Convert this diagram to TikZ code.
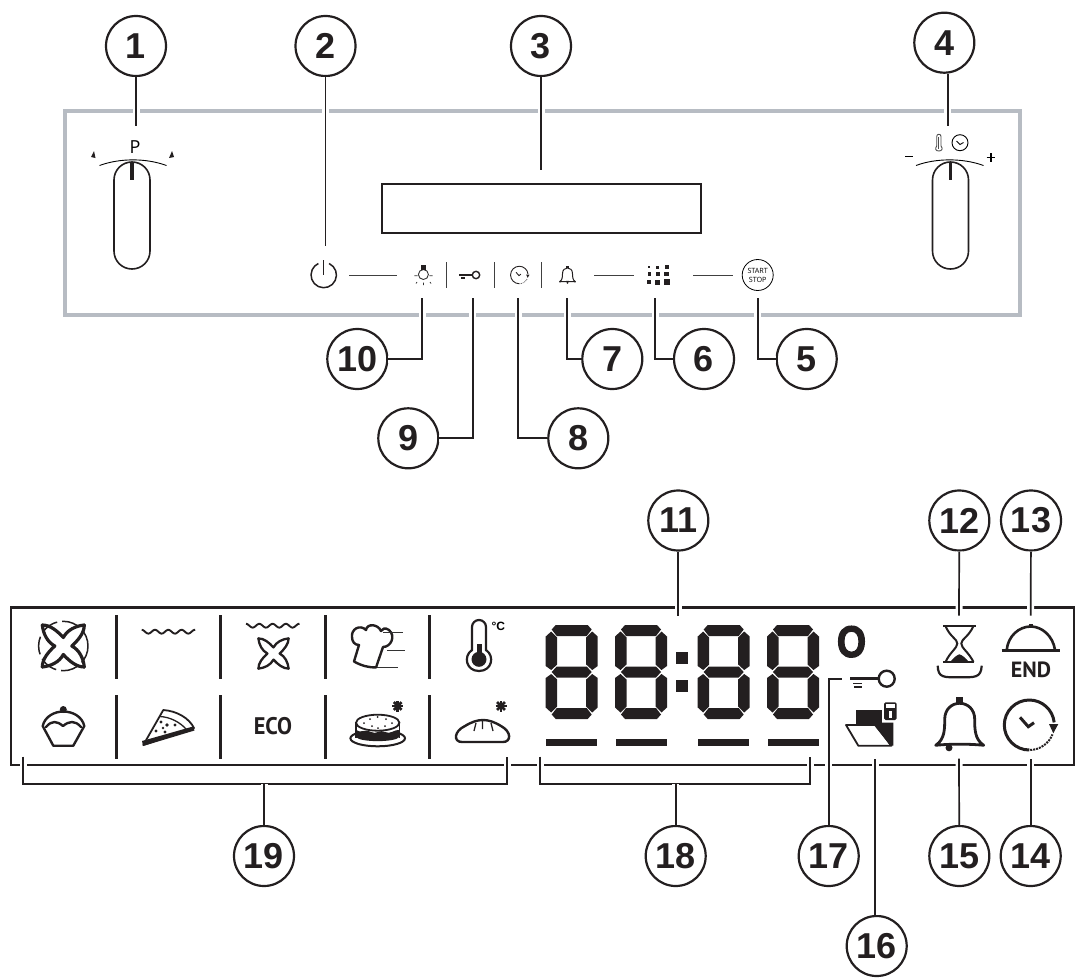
\documentclass[tikz,border=0pt]{standalone}
\usepackage{fontspec}
\setmainfont{Liberation Sans}
\newfontfamily\thinfont{Open Sans}
\newfontfamily\narrowfont{PT Sans}
\newfontfamily\heavyfont[BoldFeatures={FakeBold=3}]{Liberation Sans}
\usetikzlibrary{calc}

\definecolor{panelgrey}{HTML}{B7BCC3}
\definecolor{inkblack}{HTML}{231F20}
\tikzset{
	callout/.style={circle,draw=inkblack,fill=white,line width=2.2pt,minimum size=60pt,inner sep=0pt,text=inkblack,font=\fontsize{36}{36}\selectfont\bfseries},
	lead/.style={inkblack,line width=1.7pt,preaction={draw=white,line width=7pt}},
	panel/.style={draw=panelgrey,line width=4pt},
	ctrl/.style={black!75,line width=.9pt},
	icon/.style={inkblack,line width=2.4pt,line join=round,line cap=round},
}

%seven segment digit, top left corner at #1,#2
\newcommand{\segdigit}[2]{
	\begin{scope}[shift={(#1,#2)}]
		\fill[inkblack] (10,0) -- (42,0) -- (46,4.5) -- (41,11) -- (11,11) -- (6,4.5) -- cycle;
		\fill[inkblack] (11,41.5) -- (41,41.5) -- (46,47) -- (41,52.5) -- (11,52.5) -- (6,47) -- cycle;
		\fill[inkblack] (10,94) -- (42,94) -- (46,89.5) -- (41,83) -- (11,83) -- (6,89.5) -- cycle;
		\fill[inkblack] (0,11.5) -- (5.5,6.5) -- (11.5,12.5) -- (11.5,39.5) -- (5.5,45) -- (0,41) -- cycle;
		\fill[inkblack] (52,11.5) -- (46.5,6.5) -- (40.5,12.5) -- (40.5,39.5) -- (46.5,45) -- (52,41) -- cycle;
		\fill[inkblack] (0,82.5) -- (5.5,87.5) -- (11.5,81.5) -- (11.5,54.5) -- (5.5,49) -- (0,53) -- cycle;
		\fill[inkblack] (52,82.5) -- (46.5,87.5) -- (40.5,81.5) -- (40.5,54.5) -- (46.5,49) -- (52,53) -- cycle;
	\end{scope}
}
%pinwheel fan
\newcommand{\fanblades}[3]{
	\begin{scope}[shift={(#1,#2)},scale=#3]
		\foreach \ang in {0,90,180,270}{
			\draw[icon,rotate=\ang,line width=#3*3.2pt] (-21,-21) .. controls (-13,-21) and (-6,-15) .. (0,-8.5) .. controls (4,-16) and (12,-20) .. (21,-21);
		}
	\end{scope}
}
%wavy heater line
\newcommand{\heatwave}[2]{
	\draw[inkblack,line width=1.9pt,shift={(#1,#2)}] plot[domain=0:53.5,samples=55,smooth] (\x,{-1.9*cos(\x/13.3*360)});
}
%bell, top of the knob at #1,#2
\newcommand{\bellicon}[5]{
	\begin{scope}[shift={(#1,#2)},scale=#3]
		\draw[inkblack,line width=#4,line join=round] (-24,48) .. controls (-15,42) and (-15,32) .. (-15,22) .. controls (-15,12) and (-8,6) .. (0,6) .. controls (8,6) and (15,12) .. (15,22) .. controls (15,32) and (15,42) .. (24,48) .. controls (10,46.5) and (-10,46.5) .. (-24,48) -- cycle;
		\fill[inkblack] (-3.3,0) rectangle (3.3,7);
		\fill[inkblack] (#5,50.5) circle (3.5);
	\end{scope}
}
%clock with running arrow
\newcommand{\clockicon}[4]{
	\begin{scope}[shift={(#1,#2)},scale=#3]
		\draw[inkblack,line width=#4] (0,25) arc (90:354:25);
		\draw[inkblack,line width=#3*2pt,densely dotted] (.9,25) arc (88:22:25);
		\fill[inkblack] (19.7,-1) -- (29,-1) -- (24,8.3) -- cycle;
		\draw[inkblack,line width=#4] (-9.3,-7.7) -- (-1,1.7) -- (4.7,-2.3);
	\end{scope}
}
%asterisk mark
\newcommand{\starmark}[2]{
	\foreach \ang in {0,45,90,135}{
		\draw[inkblack,line width=2.6pt,shift={(#1,#2)},rotate=\ang] (-5.5,0) -- (5.5,0);
	}
}

\begin{document}
\begin{tikzpicture}[x=1pt,y=-1pt]
	\useasboundingbox (0,0) rectangle (1078,979);
	\pgfmathsetmacro{\knobw}{36}		%width of knob
	\pgfmathsetmacro{\knobtop}{162}
	\pgfmathsetmacro{\knobbot}{269}
	\pgfmathsetmacro{\rowa}{275}		%row of touch controls

	%control panel
	\draw[panel] (65,111) rectangle (1020,315);
	\draw[inkblack,line width=1.4pt] (382,184) rectangle (701,233);

	%display
	\draw[inkblack,line width=2.8pt] (11,607.5) rectangle (1074,765);

	%callouts
	\node[callout] (n1) at (136,46) {1};
	\node[callout] (n2) at (325.5,46) {2};
	\node[callout] (n3) at (541,46) {3};
	\node[callout] (n4) at (944.3,42.7) {4};
	\node[callout] (n5) at (806.7,359) {5};
	\node[callout] (n6) at (704,359) {6};
	\node[callout] (n7) at (612.3,359) {7};
	\node[callout] (n8) at (578.3,438.3) {8};
	\node[callout] (n9) at (408.3,438.3) {9};
	\node[callout] (n10) at (357.3,359) {10};
	\node[callout] (n11) at (678.3,520.5) {11};
	\node[callout] (n12) at (959.3,520.5) {12};
	\node[callout] (n13) at (1031,520.5) {13};
	\node[callout] (n14) at (1030.7,856) {14};
	\node[callout] (n15) at (959.3,856) {15};
	\node[callout] (n16) at (876.7,946) {16};
	\node[callout] (n17) at (828.7,856) {17};
	\node[callout] (n18) at (675.7,856) {18};
	\node[callout] (n19) at (264,856) {19};

	%free ends of the leaders
	\coordinate (c1) at (136,126);
	\coordinate (c2) at (325.5,246);
	\coordinate (c3) at (541,170);
	\coordinate (c4) at (947.7,126);
	\coordinate (c5) at (757.7,298);
	\coordinate (c6) at (655,298);
	\coordinate (c7) at (567.3,298);
	\coordinate (c8) at (518.3,298);
	\coordinate (c9) at (472.7,298);
	\coordinate (c10) at (422.3,298);
	\coordinate (c11) at (678.3,615.7);
	\coordinate (c12) at (959,615.7);
	\coordinate (c13) at (1030.7,615.7);
	\coordinate (c14) at (1030.7,758.7);
	\coordinate (c15) at (959,758.7);
	\coordinate (c16) at (875.3,758.7);
	\coordinate (c17) at (842.3,678.7);
	\coordinate (a18) at (540.3,756.7);
	\coordinate (b18) at (540.3,784);
	\coordinate (d18) at (810,784);
	\coordinate (e18) at (810,756.7);
	\coordinate (m18) at (675.7,784);
	\coordinate (a19) at (23.3,756.7);
	\coordinate (b19) at (23.3,784);
	\coordinate (d19) at (507.3,784);
	\coordinate (e19) at (507.3,756.7);
	\coordinate (m19) at (264,784);

	%leaders
	\draw[lead] (n1) -- (c1);
	\draw[lead] (n2) -- (c2);
	\draw[lead] (n3) -- (c3);
	\draw[lead] (c4 |- n4.south) -- (c4);
	\draw[lead] (n5) -| (c5);
	\draw[lead] (n6) -| (c6);
	\draw[lead] (n7) -| (c7);
	\draw[lead] (n8) -| (c8);
	\draw[lead] (n9) -| (c9);
	\draw[lead] (n10) -| (c10);
	\draw[lead] (n11) -- (c11);
	\draw[lead] (n12) -- (c12);
	\draw[lead] (n13) -- (c13);
	\draw[lead] (n14) -- (c14);
	\draw[lead] (n15) -- (c15);
	\draw[lead] (c16 |- n16.north) -- (c16);
	\draw[lead] (n17) |- (c17);
	\draw[lead] (a18) -- (b18) -- (d18) -- (e18);
	\draw[lead] (m18) -- (n18);
	\draw[lead] (a19) -- (b19) -- (d19) -- (e19);
	\draw[lead] (m19) -- (n19);

	%left knob
	\draw[inkblack,line width=1.6pt,rounded corners=17.9pt] (114,\knobtop) rectangle (114+\knobw,\knobbot);
	\draw[inkblack,line width=3.5pt] (132,\knobtop) -- (132,180);
	\draw[ctrl,black] (99.5,165.5) .. controls (120,158) and (146,158) .. (166.5,165.5);
	\fill[inkblack] (91,157) -- (94,151) -- (95.5,158) -- cycle;
	\fill[inkblack] (174,157) -- (172,151) -- (169,158) -- cycle;
	\node[font=\fontsize{18}{18}\selectfont\thinfont] (plabel) at (135,147) {P};

	%right knob
	\draw[inkblack,line width=1.6pt,rounded corners=17.9pt] (932.5,\knobtop) rectangle (932.5+\knobw,\knobbot);
	\draw[inkblack,line width=3.5pt] (950.5,\knobtop) -- (950.5,180);
	\draw[ctrl,black] (916,165.5) .. controls (936,158) and (963,158) .. (983.5,165.5);
	\draw[black,line width=1.1pt] (905,156.7) -- (913.3,156.7);
	\draw[black,line width=1.1pt] (986.7,157.3) -- (995.3,157.3) (991,153) -- (991,161.6);
	\draw[black!70,line width=.9pt] (936.7,146) -- (936.7,136.5) .. controls (936.7,133.5) and (941,133.5) .. (941,136.5) -- (941,146) .. controls (943.5,149) and (941.5,151) .. (938.8,151) .. controls (936,151) and (934.5,149) .. (936.7,146);
	\draw[black!70,line width=1.2pt] (938.8,137) -- (938.8,149);
	\draw[black,line width=.9pt] (960,142.7) circle (8);
	\draw[black,line width=.9pt] (956.5,141) -- (960,144.5) -- (963.5,142.5);

	%touch controls
	\draw[inkblack,line width=1.5pt] (329.1,263.5) arc (295:605:12.7);
	\draw[inkblack,line width=1.5pt] (323.7,260) -- (323.7,275);
	\draw[ctrl] (349,\rowa) -- (397,\rowa);
	\draw[ctrl] (594,\rowa) -- (634,\rowa);
	\draw[ctrl] (693,\rowa) -- (733,\rowa);
	\draw[ctrl] (446,262) -- (446,288);
	\draw[ctrl] (494,262) -- (494,288);
	\draw[ctrl] (541.5,262) -- (541.5,288);
	%bulb
	\draw[black!80,line width=.9pt] (423.4,274.5) circle (5);
	\fill[inkblack] (421,265) rectangle (426,270);
	\draw[black!80,line width=.8pt] (414.3,275.7) -- (417.7,275.7) (429.3,275.7) -- (432.5,275.7) (417,282) -- (416,283.5) (430,282) -- (431,283.5) (423.4,282.5) -- (423.4,285);
	%key
	\draw[inkblack,line width=1.4pt] (476,275) circle (3.7);
	\draw[inkblack,line width=1.6pt] (459.3,275) -- (472,275);
	\draw[inkblack,line width=1.8pt] (461,278) -- (465,278);
	%clock
	\clockicon{519.3}{275}{.35}{.9pt}
	%bell
	\bellicon{567.5}{266}{.33}{1pt}{0}
	%dots
	\foreach \i/\xx in {0/649.3,1/657.7,2/666.7}{
		\foreach \j/\yy in {0/267.3,1/274,2/282.3}{
			\pgfmathsetmacro{\sz}{1.1+.45*(\i+\j)}
			\fill[inkblack] (\xx-\sz,\yy-\sz) rectangle (\xx+\sz,\yy+\sz);
		}
	}
	%start stop
	\draw[black,line width=.8pt] (757.7,275) circle (15.5);
	\node[font=\fontsize{7.2}{9}\selectfont\thinfont,align=center,inner sep=0pt] (startstop) at (757.7,275) {START\\STOP};

	%dividers of the program icons
	\foreach \xx in {116.3,220.3,325.3,429.3}{
		\draw[inkblack,line width=3pt] (\xx,615) -- (\xx,678.7);
		\draw[inkblack,line width=3pt] (\xx,695) -- (\xx,758.7);
	}

	%fan
	\fanblades{63.3}{646}{1}
	\draw[inkblack,line width=1.5pt,dash pattern=on 18pt off 5pt] (63.3,646) circle (24.7);
	%top heat
	\heatwave{141.7}{631.7}
	%top heat and fan
	\heatwave{246}{625.7}
	\fanblades{273.5}{653.5}{.72}
	%chef hat
	\draw[icon] (354,661.5) .. controls (362,666) and (369,667.5) .. (376,667.5) -- (383,647) .. controls (391,647) and (396,636) .. (389,630) .. controls (385,627) and (382,629) .. (381,631) .. controls (378,624) and (367,623) .. (366,630) .. controls (360,624) and (351,629) .. (352,637) .. controls (352,642) and (355,645) .. (359,645) -- cycle;
	\draw[black!80,line width=.7pt] (383,632.3) -- (403,632.3) (387,650.3) -- (405,650.3) (377,667.3) -- (398,667.3);
	%thermometer
	\draw[inkblack,line width=2.2pt] (472,650) -- (472,627) arc (180:360:7) -- (486,650) .. controls (495,656) and (492,671) .. (479,671) .. controls (466,671) and (463,656) .. (472,650) -- cycle;
	\fill[inkblack] (476.5,644) rectangle (481.5,654);
	\fill[inkblack] (479,659.3) circle (7.5);
	\node[font=\fontsize{12}{12}\selectfont\bfseries,inner sep=0pt] (degc) at (498.3,626) {\textdegree C};

	%cupcake
	\fill[inkblack] (63.3,709.5) circle (3.5);
	\draw[icon] (42.7,726) .. controls (45,716) and (55,711.5) .. (63.3,711.5) .. controls (72,711.5) and (82,716) .. (84.3,726) -- (73.3,745.7) -- (53.3,745.7) -- cycle;
	\draw[icon] (46,727) .. controls (52,720) and (57,721) .. (63,726) .. controls (69,721) and (75,720) .. (81,727);
	%pizza
	\draw[inkblack,line width=1.8pt,line join=round] (143.3,745) -- (163.3,710) .. controls (177,711) and (189,718) .. (194,728) -- cycle;
	\fill[inkblack] (143,746) -- (194.5,730.5) -- (193,726.5) -- (142,741) -- cycle;
	\draw[inkblack,line width=1.3pt] (160,716.5) .. controls (170,717) and (180,722) .. (187,730);
	\fill[inkblack] (161,722) circle (1.6) (167,725) circle (1.8) (175,725) circle (1.6) (156,731) circle (1.6) (165,732) circle (1.6) (163,728) circle (1.3);
	%eco
	\node[font=\fontsize{24}{24}\selectfont\narrowfont\bfseries,xscale=.93,inner sep=0pt,text=inkblack] (eco) at (273,726.5) {ECO};
	%cake
	\draw[inkblack,line width=2pt] (377.7,738.3) ellipse (27.3 and 8);
	\fill[white] (356,722) rectangle (399.4,736);
	\fill[inkblack] (356,730) .. controls (361,734) and (366,728) .. (371,732) .. controls (376,735) and (380,729) .. (385,732) .. controls (390,735) and (395,729) .. (399.4,730) -- (399.4,737) .. controls (395,742.5) and (360,742.5) .. (356,737) -- cycle;
	\draw[inkblack,line width=1.8pt] (356,722.7) -- (356,738) (399.4,722.7) -- (399.4,738);
	\draw[inkblack,line width=1.8pt,fill=white] (377.7,722.7) ellipse (21.7 and 8);
	\foreach \xx/\yy in {364/723,370/719,377.7/717,386/719,392/723,372/726,378/728,385/726}{
		\fill[inkblack] (\xx,\yy) circle (1);
	}
	\starmark{397.7}{706}
	%bread
	\draw[icon] (462,742) .. controls (453,742) and (454,731) .. (465,726) .. controls (478,718) and (488,718) .. (501,726) .. controls (512,732) and (511,742) .. (503,742) -- cycle;
	\draw[inkblack,line width=1.3pt] (476,723) -- (474,731) (482.5,721) -- (482.5,729) (491,723) -- (493,731);
	\starmark{501}{706}

	%time digits
	\segdigit{545.7}{625}
	\segdigit{615}{625}
	\segdigit{697.7}{625}
	\segdigit{767}{625}
	\fill[inkblack] (676,652) rectangle (688,664);
	\fill[inkblack] (676,680) rectangle (688,692);
	\fill[inkblack] (546,739) rectangle (597,746);
	\fill[inkblack] (616,739) rectangle (667,746);
	\fill[inkblack] (698,739) rectangle (749,746);
	\fill[inkblack] (768,739) rectangle (819,746);
	\node[font=\fontsize{44}{44}\selectfont\heavyfont\bfseries,xscale=.85,inner sep=0pt,text=inkblack] (degree) at (851.5,641.7) {O};

	%door key
	\draw[inkblack,line width=2.4pt] (886.7,678.7) circle (8);
	\draw[inkblack,line width=2.6pt] (850,678.7) -- (878.7,678.7);
	\draw[inkblack,line width=1.6pt] (853,683.5) -- (862,683.5) (854,687) -- (861.5,687);
	%folder with lock
	\fill[inkblack] (856,710) rectangle (881.7,725);
	\fill[inkblack] (875,725) -- (875,722.7) -- (893.3,722.7) -- (893.3,745.7) -- (890,745.7) -- cycle;
	\draw[inkblack,line width=1.8pt,line join=round] (846,725) -- (875,725) -- (891.5,745.7) -- (858.3,745.7) -- cycle;
	\fill[inkblack,rounded corners=1.5pt] (884,702.3) rectangle (896.7,720);
	\fill[white] (886,704) rectangle (894.7,708);
	\fill[white] (888.8,711) rectangle (892,718);
	%hourglass
	\draw[inkblack,line width=2.2pt] (943.3,625.7) -- (975.7,625.7) (943.3,662.3) -- (973.5,662.3);
	\draw[inkblack,line width=2pt] (945.5,626) .. controls (950,637) and (957.3,639) .. (957.3,643.5) .. controls (957.3,648) and (950,652) .. (945.5,662);
	\draw[inkblack,line width=2pt] (973.5,626) .. controls (968.5,637) and (961.3,639) .. (961.3,643.5) .. controls (961.3,648) and (968.5,652) .. (973.5,662);
	\fill[inkblack] (950,662.3) .. controls (953,658) and (957,655) .. (959.3,654.3) .. controls (962,655) and (966,658) .. (969,662.3) -- cycle;
	\draw[inkblack,line width=2.2pt] (937.7,665.7) .. controls (938,678) and (944,677.3) .. (959,677.3) .. controls (975,677.3) and (981,678) .. (981.7,665.7);
	%cloche
	\draw[inkblack,line width=2.6pt] (1006.7,650) .. controls (1008,636) and (1019,626.5) .. (1030.7,626.5) .. controls (1042,626.5) and (1053,636) .. (1055,650);
	\draw[inkblack,line width=3pt] (1001.7,650.7) -- (1060,650.7);
	\fill[inkblack] (1028.7,623.7) rectangle (1032.7,627);
	\node[font=\fontsize{22}{22}\selectfont\narrowfont\bfseries,inner sep=0pt,text=inkblack] (endlabel) at (1031,669.5) {END};
	%bell
	\bellicon{959.7}{697.3}{1}{2.8pt}{-10.7}
	%clock
	\clockicon{1029.3}{725}{1}{3pt}
\end{tikzpicture}
\end{document}
